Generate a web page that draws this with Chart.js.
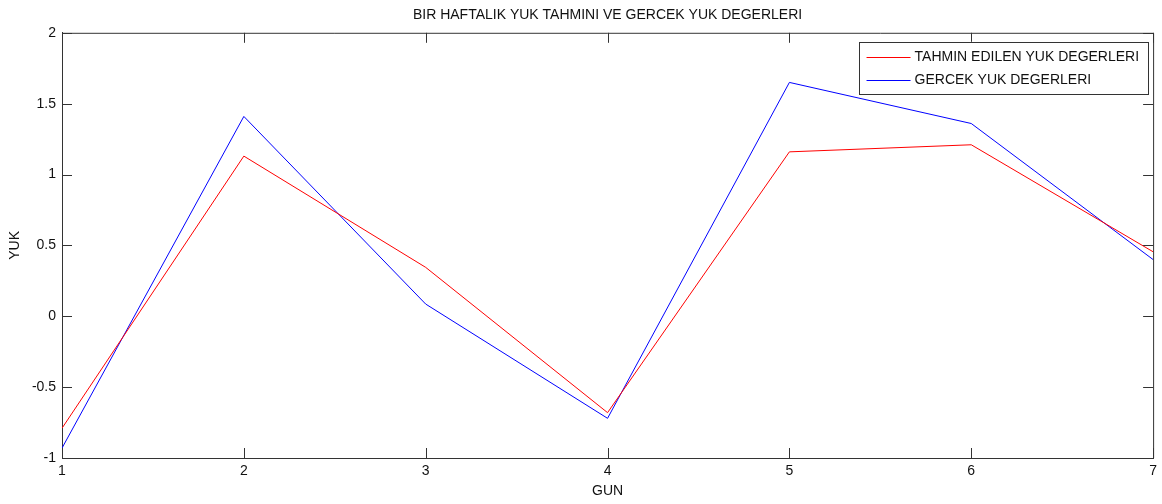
<!DOCTYPE html>
<html>
<head>
<meta charset="utf-8">
<script src="https://cdn.jsdelivr.net/npm/chart.js@4.4.0/dist/chart.umd.min.js"></script>
<style>
  html, body { margin: 0; padding: 0; background: #fff; }
  #wrap { width: 1162px; height: 504px; }
</style>
</head>
<body>
<div id="wrap"><canvas id="yuk"></canvas></div>
<script>
const gunler = [1, 2, 3, 4, 5, 6, 7];
const tahmin = [-0.79, 1.13, 0.345, -0.68, 1.16, 1.21, 0.455];
const gercek = [-0.93, 1.41, 0.086, -0.72, 1.65, 1.36, 0.40];
const yTicks = [-1, -0.5, 0, 0.5, 1, 1.5, 2];

const FONT = "'Liberation Sans', Arial, sans-serif";
const LINE = "#333";
const TEXT = "#111";

// MATLAB style: closed box, ticks pointing inward, legend inside top-right
const boxPlugin = {
  id: "box",
  afterDraw(chart) {
    const { ctx, chartArea: a, scales } = chart;
    ctx.save();
    ctx.strokeStyle = LINE;
    ctx.lineWidth = 1;
    ctx.beginPath();
    ctx.moveTo(a.left, a.top + 0.5);
    ctx.lineTo(a.right + 0.5, a.top + 0.5);
    ctx.lineTo(a.right + 0.5, a.bottom);
    ctx.stroke();

    const tl = 10;
    ctx.beginPath();
    scales.x.ticks.forEach(t => {
      const px = Math.round(scales.x.getPixelForValue(t.value)) + 0.5;
      ctx.moveTo(px, a.bottom); ctx.lineTo(px, a.bottom - tl);
      ctx.moveTo(px, a.top); ctx.lineTo(px, a.top + tl);
    });
    scales.y.ticks.forEach(t => {
      const py = Math.round(scales.y.getPixelForValue(t.value)) + 0.5;
      ctx.moveTo(a.left, py); ctx.lineTo(a.left + tl, py);
      ctx.moveTo(a.right, py); ctx.lineTo(a.right - tl, py);
    });
    ctx.stroke();

    // legend
    ctx.font = "14px " + FONT;
    const sets = chart.data.datasets;
    const tw = Math.max(...sets.map(d => ctx.measureText(d.label).width));
    const w = 8 + 44 + 4 + tw + 8;
    const right = a.right - 6;
    const left = right - w;
    const top = a.top + 9;
    const rowH = 23.5;
    const h = 52;
    ctx.fillStyle = "#fff";
    ctx.fillRect(left, top, w, h);
    ctx.strokeStyle = LINE;
    ctx.strokeRect(Math.round(left) + 0.5, Math.round(top) + 0.5, Math.round(w), h);
    sets.forEach((d, i) => {
      const cy = Math.round(top + 15 + i * rowH) + 0.5;
      ctx.strokeStyle = d.borderColor;
      ctx.beginPath();
      ctx.moveTo(left + 8, cy); ctx.lineTo(left + 52, cy);
      ctx.stroke();
      ctx.fillStyle = TEXT;
      ctx.textBaseline = "middle";
      ctx.textAlign = "left";
      ctx.fillText(d.label, left + 56, cy);
    });
    ctx.restore();
  }
};

new Chart(document.getElementById("yuk"), {
  type: "line",
  data: {
    datasets: [
      {
        label: "TAHMIN EDILEN YUK DEGERLERI",
        data: gunler.map((g, i) => ({ x: g, y: tahmin[i] })),
        borderColor: "rgb(255, 0, 0)",
        borderWidth: 1,
        pointRadius: 0,
        tension: 0,
      },
      {
        label: "GERCEK YUK DEGERLERI",
        data: gunler.map((g, i) => ({ x: g, y: gercek[i] })),
        borderColor: "rgb(0, 0, 255)",
        borderWidth: 1,
        pointRadius: 0,
        tension: 0,
      },
    ],
  },
  options: {
    responsive: true,
    maintainAspectRatio: false,
    animation: false,
    layout: { padding: { left: 0, right: 7, top: 0, bottom: 0 } },
    scales: {
      x: {
        type: "linear",
        min: 1,
        max: 7,
        afterBuildTicks: s => { s.ticks = gunler.map(v => ({ value: v })); },
        afterFit: s => { s.height = 46; },
        ticks: { color: TEXT, font: { family: FONT, size: 14 }, padding: 5, maxRotation: 0 },
        grid: { drawOnChartArea: false, drawTicks: false },
        border: { color: LINE },
        title: { display: true, text: "GUN", color: TEXT, font: { family: FONT, size: 14 }, padding: { top: 0, bottom: 4 } },
      },
      y: {
        min: -1,
        max: 2,
        afterBuildTicks: s => { s.ticks = yTicks.map(v => ({ value: v })); },
        afterFit: s => { s.width = 62; },
        ticks: { color: TEXT, font: { family: FONT, size: 14 }, padding: 6, callback: v => String(v) },
        grid: { drawOnChartArea: false, drawTicks: false },
        border: { color: LINE },
        title: { display: true, text: "YUK", color: TEXT, font: { family: FONT, size: 14 }, padding: { top: 7, bottom: 0 } },
      },
    },
    plugins: {
      legend: { display: false },
      tooltip: { enabled: false },
      title: {
        display: true,
        fullSize: false,
        text: "BIR HAFTALIK YUK TAHMINI VE GERCEK YUK DEGERLERI",
        color: TEXT,
        font: { family: FONT, size: 14, weight: "normal" },
        padding: { top: 7, bottom: 9 },
      },
    },
  },
  plugins: [boxPlugin],
});
</script>
</body>
</html>
